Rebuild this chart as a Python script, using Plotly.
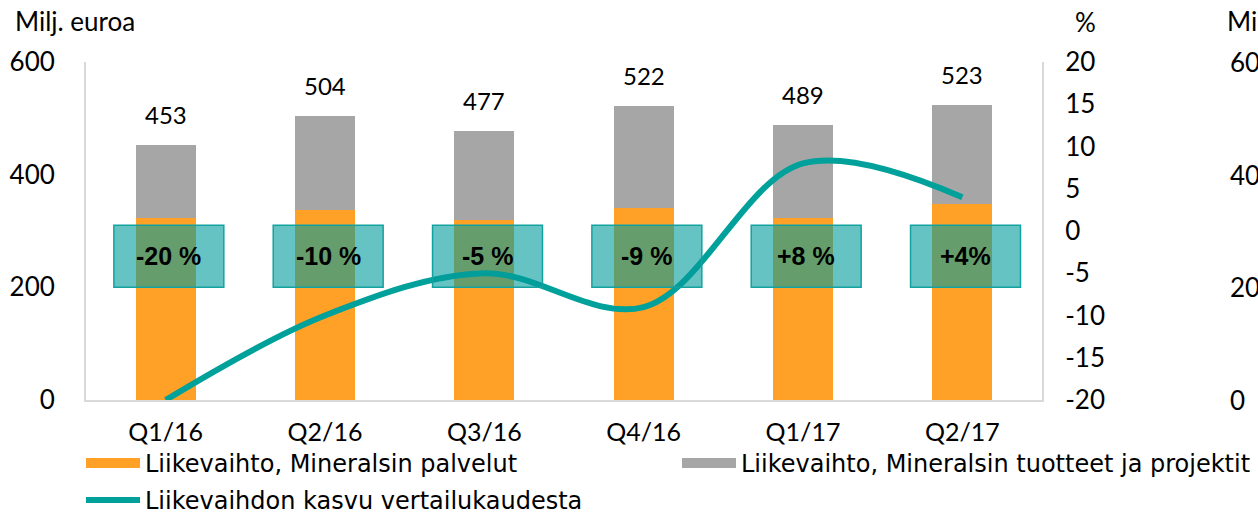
import plotly.graph_objects as go

quarters = ["Q1/16", "Q2/16", "Q3/16", "Q4/16", "Q1/17", "Q2/17"]
totals = [453, 504, 477, 522, 489, 523]
palvelut = [323, 338, 320, 340, 323, 348]
tuotteet = [t - p for t, p in zip(totals, palvelut)]
growth = [-20, -10, -5, -9, 8, 4]
growth_labels = ["-20 %", "-10 %", "-5 %", "-9 %", "+8 %", "+4%"]
left_ticks = [0, 200, 400, 600]
right_ticks = [-20, -15, -10, -5, 0, 5, 10, 15, 20]
right_tick_text = ["-20", "-15", "-10", "-5", "0", "5", "10", "15", "20"]

name_palvelut = "Liikevaihto, Mineralsin palvelut"
name_tuotteet = "Liikevaihto, Mineralsin tuotteet ja projektit"
name_kasvu = "Liikevaihdon kasvu vertailukaudesta"

ORANGE = "#FFA126"
GRAY = "#A6A6A6"
TEAL = "#00A19A"
FONT = "Lato"
LEG_FONT = "DejaVu Sans"

W, H = 1258, 512
ML, MR, MT, MB = 86, 1258 - 1042, 62, 112
PW = W - ML - MR
PH = H - MT - MB

def px_x(p):
    return (p - ML) / PW

def px_y(p):
    return (H - MB - p) / PH

fig = go.Figure()
fig.add_trace(go.Bar(
    x=quarters, y=palvelut, name=name_palvelut, showlegend=False,
    marker=dict(color=ORANGE, line=dict(width=0)), width=0.376,
))
fig.add_trace(go.Bar(
    x=quarters, y=tuotteet, name=name_tuotteet, showlegend=False,
    marker=dict(color=GRAY, line=dict(width=0)), width=0.376,
))
fig.add_trace(go.Scatter(
    x=quarters, y=growth, name=name_kasvu, legend="legend3",
    mode="lines", line=dict(color=TEAL, width=6, shape="spline", smoothing=1.0),
    yaxis="y2",
))
# legend keys for the bar series (wide rectangular swatches like the original)
fig.add_trace(go.Scatter(
    x=[None], y=[None], name=name_palvelut, legend="legend",
    mode="lines", line=dict(color=ORANGE, width=15), hoverinfo="skip",
))
fig.add_trace(go.Scatter(
    x=[None], y=[None], name=name_tuotteet, legend="legend2",
    mode="lines", line=dict(color=GRAY, width=15), hoverinfo="skip",
))

shapes = []
annotations = []
for i, (q, lab, tot) in enumerate(zip(quarters, growth_labels, totals)):
    shapes.append(dict(
        type="rect", xref="x", yref="y",
        x0=i - 0.325, x1=i + 0.365, y0=200, y1=310,
        fillcolor="rgba(0,155,155,0.6)",
        line=dict(color="#12A3A0", width=1.5), layer="above",
    ))
    annotations.append(dict(
        x=i + 0.02, y=255, xref="x", yref="y", text=lab, showarrow=False,
        font=dict(family="Liberation Sans", size=25, color="black", weight="bold"),
    ))
    annotations.append(dict(
        x=q, y=tot, xref="x", yref="y", text=str(tot), showarrow=False,
        yanchor="bottom", yshift=14,
        font=dict(family=FONT, size=24, color="black"),
    ))

annotations.append(dict(
    x=px_x(13), y=px_y(21), xref="paper", yref="paper", text="Milj. euroa",
    showarrow=False, xanchor="left", yanchor="middle",
    font=dict(family=FONT, size=26, color="black"),
))
annotations.append(dict(
    x=px_x(1073), y=px_y(22), xref="paper", yref="paper", text="%",
    showarrow=False, xanchor="left", yanchor="middle",
    font=dict(family=FONT, size=26, color="black"),
))
# cut-off neighbouring chart at the right edge
annotations.append(dict(
    x=px_x(1225), y=px_y(21), xref="paper", yref="paper", text="Milj. euroa",
    showarrow=False, xanchor="left", yanchor="middle",
    font=dict(family=FONT, size=26, color="black"),
))
for v in left_ticks:
    annotations.append(dict(
        x=px_x(1228), y=v, xref="paper", yref="y", text=str(v),
        showarrow=False, xanchor="left", yanchor="middle",
        font=dict(family=FONT, size=26, color="black"),
    ))

leg_common = dict(
    orientation="h", xanchor="left", yanchor="top",
    font=dict(family=LEG_FONT, size=24, color="black"),
    itemwidth=54, bgcolor="rgba(0,0,0,0)", borderwidth=0,
)

fig.update_layout(
    width=W, height=H,
    margin=dict(l=ML, r=MR, t=MT, b=MB, pad=0, autoexpand=False),
    paper_bgcolor="white", plot_bgcolor="white",
    barmode="stack", bargap=0.624,
    font=dict(family=FONT, size=26, color="black"),
    shapes=shapes, annotations=annotations,
    showlegend=True,
    legend=dict(x=px_x(81), y=px_y(441), **leg_common),
    legend2=dict(x=px_x(677), y=px_y(441), **leg_common),
    legend3=dict(x=px_x(81), y=px_y(478), **leg_common),
    xaxis=dict(
        type="category", showgrid=False, showline=True, linecolor="#D9D9D9",
        linewidth=2, ticks="", ticklabelstandoff=9, zeroline=False,
        tickfont=dict(family=FONT, size=25, color="black"),
    ),
    yaxis=dict(
        range=[0, 600], tickvals=left_ticks, showgrid=False, showline=True,
        linecolor="#D9D9D9", linewidth=2, ticks="", ticklabelstandoff=24,
        zeroline=False, tickfont=dict(family=FONT, size=26, color="black"),
    ),
    yaxis2=dict(
        range=[-20, 20], tickvals=right_ticks, ticktext=right_tick_text,
        overlaying="y", side="right",
        showgrid=False, showline=True, linecolor="#D9D9D9", linewidth=2,
        ticks="", ticklabelstandoff=16, zeroline=False,
        tickfont=dict(family=FONT, size=26, color="black"),
    ),
)

fig.write_html(
    "out.html",
    config={"displayModeBar": False},
    post_script="document.body.style.margin='0';document.body.style.overflow='hidden';",
)
